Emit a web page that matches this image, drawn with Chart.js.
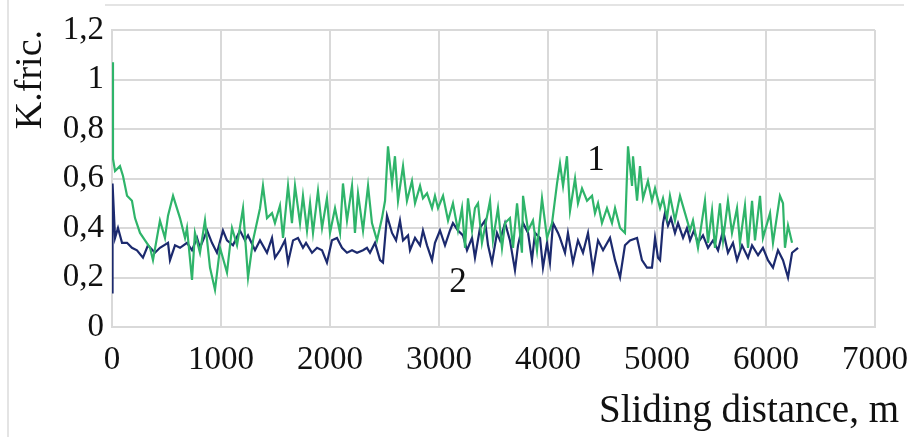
<!DOCTYPE html>
<html>
<head>
<meta charset="utf-8">
<script src="https://cdn.jsdelivr.net/npm/chart.js@4/dist/chart.umd.min.js"></script>
<style>
  html, body { margin: 0; padding: 0; background: #ffffff; }
  #c { display: block; }
</style>
</head>
<body>
<canvas id="c" width="912" height="439"></canvas>
<script>
// ---- Data ----
const xTickLabels = ['0', '1000', '2000', '3000', '4000', '5000', '6000', '7000'];
const yTickLabels = ['0', '0,2', '0,4', '0,6', '0,8', '1', '1,2'];

// Series 1 (green): sliding distance, m
const dist1 = [0,9,28,73,101,138,183,211,257,303,
  349,376,440,486,514,560,624,670,688,734,
  761,807,853,899,945,991,1055,1101,1147,1202,
  1248,1294,1358,1385,1422,1468,1495,1541,1569,1615,
  1651,1679,1725,1752,1789,1817,1844,1890,1927,1972,
  2000,2046,2092,2119,2156,2202,2229,2257,2303,2349,
  2385,2431,2477,2505,2532,2569,2596,2624,2670,2706,
  2752,2780,2826,2853,2890,2936,2963,2991,3037,3083,
  3128,3174,3211,3239,3266,3303,3330,3358,3394,3468,
  3495,3541,3578,3606,3651,3679,3716,3761,3771,3817,
  3862,3899,3945,3991,4037,4083,4110,4138,4174,4202,
  4248,4275,4312,4358,4404,4431,4459,4495,4541,4587,
  4615,4661,4706,4734,4771,4780,4817,4844,4872,4917,
  4954,4982,5028,5055,5092,5119,5165,5211,5257,5303,
  5330,5376,5440,5468,5505,5532,5578,5606,5651,5688,
  5734,5761,5807,5835,5872,5899,5945,5972,6037,6064,
  6128,6156,6174,6202,6239];
// Series 1 (green): friction coefficient
const fric1 = [1.07,0.68,0.63,0.65,0.61,0.53,0.51,0.44,0.38,0.35,
  0.32,0.27,0.43,0.36,0.45,0.53,0.44,0.36,0.40,0.19,
  0.38,0.30,0.43,0.24,0.15,0.32,0.22,0.40,0.33,0.48,
  0.20,0.35,0.48,0.57,0.44,0.46,0.42,0.49,0.36,0.57,
  0.42,0.57,0.42,0.53,0.39,0.50,0.38,0.55,0.40,0.52,
  0.38,0.48,0.38,0.58,0.43,0.57,0.38,0.54,0.39,0.57,
  0.42,0.35,0.44,0.51,0.73,0.58,0.69,0.51,0.65,0.51,
  0.59,0.50,0.57,0.52,0.54,0.48,0.53,0.48,0.53,0.43,
  0.50,0.39,0.48,0.32,0.52,0.39,0.48,0.50,0.34,0.51,
  0.35,0.48,0.32,0.42,0.44,0.32,0.50,0.30,0.53,0.39,
  0.43,0.31,0.52,0.36,0.42,0.58,0.66,0.57,0.69,0.47,
  0.60,0.50,0.56,0.51,0.53,0.46,0.50,0.42,0.48,0.42,
  0.48,0.40,0.38,0.73,0.57,0.69,0.51,0.65,0.52,0.59,
  0.51,0.56,0.48,0.52,0.44,0.53,0.43,0.53,0.46,0.39,
  0.43,0.32,0.51,0.34,0.47,0.32,0.50,0.35,0.51,0.38,
  0.48,0.34,0.49,0.32,0.51,0.35,0.53,0.36,0.46,0.34,
  0.53,0.50,0.32,0.41,0.34];

// Series 2 (navy): sliding distance, m
const dist2 = [0,5,28,55,92,138,183,229,284,330,
  394,440,514,532,578,624,688,734,780,807,
  872,917,963,1018,1055,1110,1174,1220,1248,1312,
  1358,1422,1468,1495,1541,1587,1615,1661,1706,1752,
  1780,1835,1881,1927,1972,2018,2064,2110,2156,2202,
  2248,2303,2339,2367,2413,2459,2486,2523,2569,2606,
  2642,2670,2716,2734,2780,2826,2853,2890,2936,2963,
  3009,3055,3101,3128,3174,3220,3257,3303,3330,3376,
  3422,3450,3486,3532,3560,3606,3651,3697,3725,3771,
  3817,3853,3881,3927,3954,3991,4018,4046,4092,4110,
  4156,4183,4229,4275,4321,4367,4413,4459,4505,4569,
  4615,4661,4706,4752,4817,4862,4908,4954,4982,5009,
  5028,5055,5073,5101,5128,5165,5193,5239,5275,5303,
  5339,5376,5422,5468,5514,5560,5606,5651,5697,5734,
  5780,5835,5872,5927,5972,6018,6064,6110,6156,6202,
  6239,6294];
// Series 2 (navy): friction coefficient
const fric2 = [0.14,0.58,0.36,0.40,0.34,0.34,0.32,0.31,0.28,0.33,
  0.30,0.32,0.34,0.27,0.33,0.32,0.34,0.31,0.36,0.32,
  0.39,0.34,0.30,0.39,0.35,0.33,0.39,0.35,0.37,0.31,
  0.35,0.30,0.36,0.28,0.31,0.35,0.26,0.35,0.36,0.32,
  0.34,0.30,0.32,0.31,0.26,0.35,0.36,0.32,0.30,0.31,
  0.30,0.31,0.32,0.30,0.34,0.27,0.26,0.45,0.38,0.35,
  0.43,0.35,0.37,0.31,0.36,0.33,0.39,0.33,0.27,0.34,
  0.39,0.33,0.39,0.42,0.39,0.37,0.31,0.36,0.28,0.40,
  0.43,0.33,0.26,0.38,0.35,0.42,0.35,0.23,0.33,0.42,
  0.38,0.27,0.38,0.36,0.24,0.34,0.26,0.42,0.38,0.36,
  0.30,0.38,0.26,0.35,0.30,0.38,0.23,0.35,0.31,0.36,
  0.27,0.20,0.33,0.35,0.36,0.27,0.24,0.24,0.36,0.28,
  0.27,0.42,0.46,0.41,0.44,0.38,0.42,0.36,0.40,0.35,
  0.39,0.34,0.37,0.32,0.35,0.31,0.39,0.30,0.34,0.27,
  0.33,0.28,0.33,0.29,0.32,0.27,0.24,0.31,0.27,0.20,
  0.30,0.32];

// Curve labels placed in data coordinates
const tagTexts = ['1', '2'];
const tagDist = [4440, 3175];
const tagFric = [0.67, 0.178];

const yTitle = 'K.fric.';
const xTitle = 'Sliding distance, m';

// ---- Styles ----
const SERIF = '"Liberation Serif", "DejaVu Serif", serif';
const GREEN = '#2fb46a';
const NAVY = '#1c2a6e';
const GRID = '#d9d9d9';

const toPts = (xs, ys) => xs.map((x, i) => ({ x: x, y: ys[i] }));

const framePlugin = {
  id: 'frame',
  beforeDraw(chart) {
    const ctx = chart.ctx;
    ctx.save();
    ctx.strokeStyle = '#e4e4e4';
    ctx.lineWidth = 2;
    ctx.beginPath();
    ctx.moveTo(105, 5); ctx.lineTo(904, 5);
    ctx.moveTo(8, 0); ctx.lineTo(8, 437);
    ctx.stroke();
    ctx.restore();
  }
};

const textPlugin = {
  id: 'texts',
  afterDatasetsDraw(chart) {
    const ctx = chart.ctx;
    const xs = chart.scales.x, ys = chart.scales.y;
    ctx.save();
    ctx.fillStyle = '#111';
    ctx.font = '35px ' + SERIF;
    ctx.textAlign = 'center';
    ctx.textBaseline = 'middle';
    tagTexts.forEach((t, i) => {
      ctx.fillText(t, xs.getPixelForValue(tagDist[i]), ys.getPixelForValue(tagFric[i]));
    });
    ctx.font = '39px ' + SERIF;
    ctx.textAlign = 'right';
    ctx.textBaseline = 'alphabetic';
    ctx.fillText(xTitle, chart.width - 13, 422);
    ctx.restore();
  }
};

new Chart(document.getElementById('c'), {
  type: 'line',
  data: {
    datasets: [
      {
        label: '1',
        data: toPts(dist1, fric1),
        borderColor: GREEN,
        borderWidth: 2.2,
        pointRadius: 0,
        tension: 0,
        fill: false
      },
      {
        label: '2',
        data: toPts(dist2, fric2),
        borderColor: NAVY,
        borderWidth: 2.2,
        pointRadius: 0,
        tension: 0,
        fill: false
      }
    ]
  },
  options: {
    responsive: false,
    animation: false,
    events: [],
    layout: { padding: { top: 30, right: 37, left: 0, bottom: 0 } },
    plugins: {
      legend: { display: false },
      tooltip: { enabled: false }
    },
    scales: {
      x: {
        type: 'linear',
        min: 0,
        max: 7000,
        afterFit(scale) {
          scale.height = 112;
          scale.paddingLeft = 0;
          scale.paddingRight = 0;
        },
        ticks: {
          stepSize: 1000,
          padding: 14,
          maxRotation: 0,
          color: '#111',
          font: { family: SERIF, size: 33 },
          callback: (v, i) => xTickLabels[i]
        },
        grid: { color: GRID, lineWidth: 2, drawTicks: false },
        border: { color: GRID, width: 2 }
      },
      y: {
        min: 0,
        max: 1.2,
        afterFit(scale) {
          scale.width = 112;
          scale.paddingTop = 0;
          scale.paddingBottom = 0;
        },
        ticks: {
          stepSize: 0.2,
          padding: 8,
          color: '#111',
          font: { family: SERIF, size: 33 },
          callback: (v, i) => yTickLabels[i]
        },
        grid: { color: GRID, lineWidth: 2, drawTicks: false },
        border: { color: GRID, width: 2 },
        title: {
          display: true,
          text: yTitle,
          align: 'end',
          color: '#111',
          font: { family: SERIF, size: 38 },
          padding: { top: 8, bottom: 0 }
        }
      }
    }
  },
  plugins: [framePlugin, textPlugin]
});
</script>
</body>
</html>
